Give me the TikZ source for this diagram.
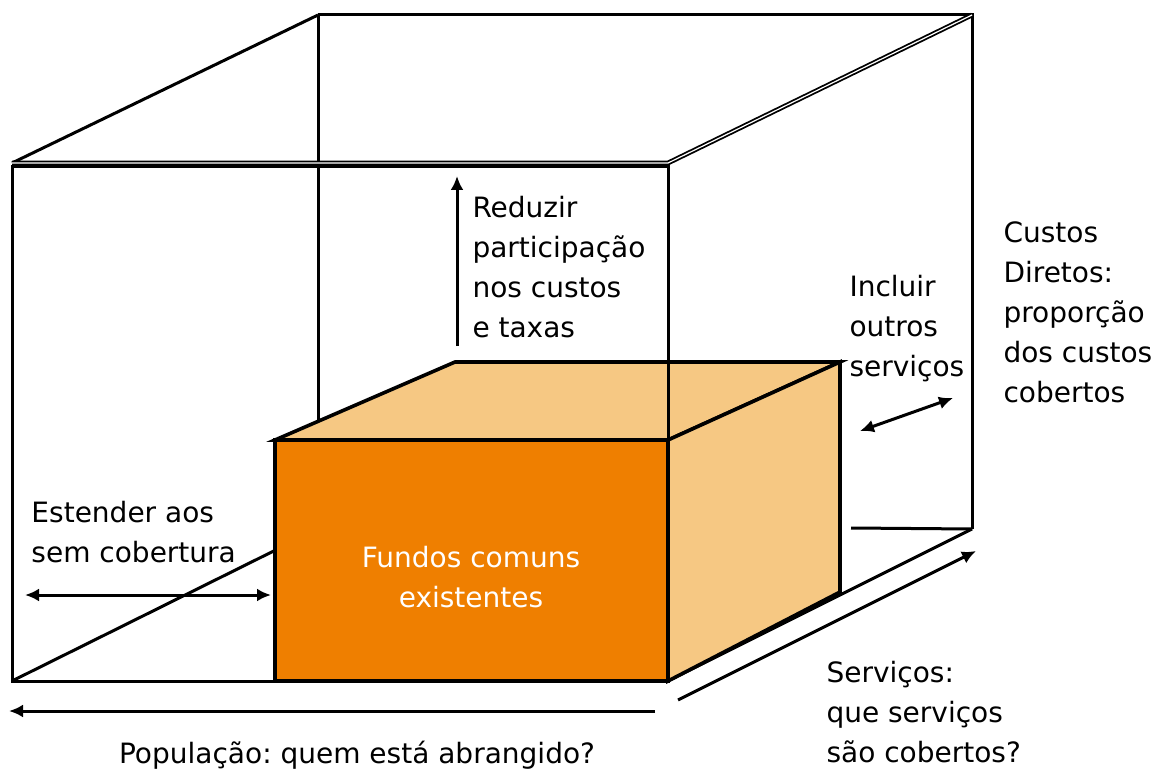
\documentclass[tikz,border=0pt]{standalone}
\usepackage{fontspec}
\setmainfont{DejaVu Sans}
\usetikzlibrary{arrows, arrows.meta}
\tikzset{>={Latex[length=7pt, width=6.5pt]}}
\definecolor{myorange}{RGB}{239, 127, 0}
\definecolor{mybeige}{RGB}{246, 200, 131}
\frenchspacing
\begin{document}
\begin{tikzpicture}[x=0.5pt, y=-0.5pt, line width=1.5pt,
  lbl/.style={font=\fontsize{14}{20}\selectfont, align=left, inner sep=0pt, anchor=base west},
  edge2/.style={double, double distance=0.6pt, line width=0.9pt}]
\useasboundingbox (0,0) rectangle (1156,770);
% outer box
\draw (318,15) -- (972,15) -- (972,529);
\draw (318,15) -- (318,529);
\draw (12,681) -- (318,529);
\draw (851,528) -- (972,529);
\draw (668,681) -- (972,529);
\draw (12,163) -- (318,15);
\draw[edge2] (12,163) -- (668,163) -- (972,15);
\draw (12,167) rectangle (668,681);
% inner box
\draw[fill = mybeige, line width=1.8pt] (275,440) -- (455,362) -- (840,362) -- (668,440) -- cycle;
\draw[fill = mybeige, line width=1.8pt] (668,440) -- (840,362) -- (840,592) -- (668,681) -- cycle;
\draw[fill = myorange, line width=2.2pt] (275,440) rectangle (668,681);
\draw (668,167) -- (668,440);
% arrows
\coordinate (up0) at (457,346);
\coordinate (up1) at (457,176);
\coordinate (ext0) at (25,595);
\coordinate (ext1) at (271,595);
\coordinate (inc0) at (860,431);
\coordinate (inc1) at (953,398);
\coordinate (pop0) at (655,711);
\coordinate (pop1) at (9,711);
\coordinate (ser0) at (678,700);
\coordinate (ser1) at (976,551);
\draw[->] (up0) -- (up1);
\draw[<->] (ext0) -- (ext1);
\draw[<->] (inc0) -- (inc1);
\draw[->] (pop0) -- (pop1);
\draw[->] (ser0) -- (ser1);
% labels (placed at the baseline of their last line)
\node[lbl] (reduzir) at (471,337) {Reduzir\\participação\\nos custos\\e taxas};
\node[lbl] (custos) at (1002,402) {Custos\\Diretos:\\proporção\\dos custos\\cobertos};
\node[lbl] (incluir) at (848,376) {Incluir\\outros\\serviços};
\node[lbl] (estender) at (30,562) {Estender aos\\sem cobertura};
\node[lbl, align=center, anchor=base, text=white] (fundos) at (471,607) {Fundos comuns\\existentes};
\node[lbl, anchor=base] (populacao) at (357,763) {População: quem está abrangido?};
\node[lbl] (servicos) at (825,762) {Serviços:\\que serviços\\são cobertos?};
\end{tikzpicture}
\end{document}
